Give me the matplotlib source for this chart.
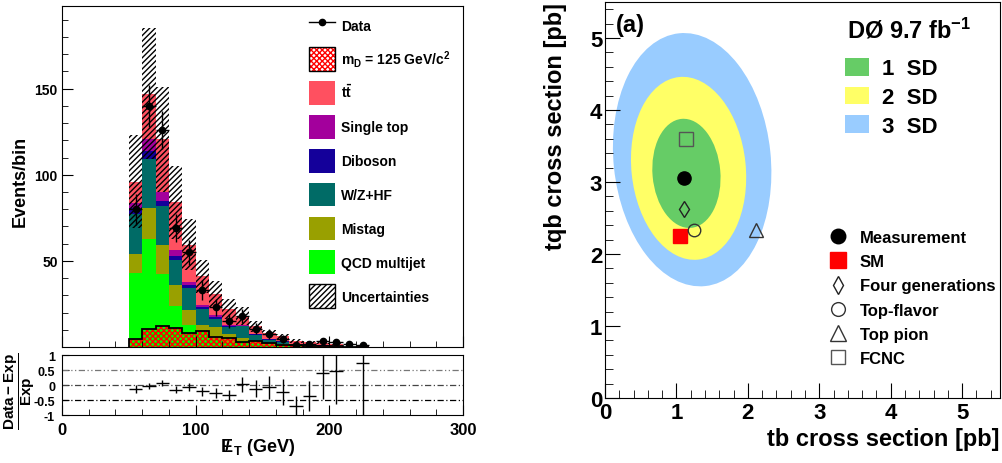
import numpy as np
import matplotlib
matplotlib.use('Agg')
from matplotlib import pyplot as plt
from matplotlib.patches import Ellipse, Patch
from matplotlib.lines import Line2D
from matplotlib.ticker import MultipleLocator

plt.rcParams['font.family'] = ['Liberation Sans', 'DejaVu Sans']
plt.rcParams['font.weight'] = 'bold'
plt.rcParams['mathtext.fontset'] = 'custom'
plt.rcParams['mathtext.rm'] = 'Liberation Sans:bold'
plt.rcParams['mathtext.it'] = 'Liberation Sans:bold'
plt.rcParams['mathtext.bf'] = 'Liberation Sans:bold'
plt.rcParams['hatch.linewidth'] = 1.0

#---------------- left panel: missing ET distribution ----------------
et_edges = [50, 60, 70, 80, 90, 100, 110, 120, 130, 140, 150,
            160, 170, 180, 190, 200, 210, 220, 230]
qcd    = [43, 63, 42.5, 24, 12.5, 8.5, 4, 2.5, 3.5, 1.5, 1, 0.5, 0.3, 0.2, 0.1, 0, 0, 0]
mistag = [11, 18, 17, 12, 9, 4, 7.5, 5, 2, 2, 1.5, 1, 0.7, 0.5, 0.3, 0.2, 0, 0.1]
wzhf   = [23.5, 28, 22.5, 14.5, 13, 9.5, 5, 4, 6.5, 3.5, 1.5, 1.5, 0.6, 0.5, 0.4, 0.3, 0, 0.1]
dibos  = [3, 5, 3, 2.5, 1.5, 1, 1, 0.5, 0.3, 0.3, 0.5, 0.2, 0.1, 0.1, 0.1, 0.05, 0, 0]
stop   = [3, 7, 5, 3.5, 1.5, 1.5, 1, 0.7, 0.4, 0.3, 0.3, 0.3, 0.1, 0.1, 0.1, 0.05, 0, 0]
ttbar  = [12.5, 26, 30.5, 27.5, 22, 16.5, 12.5, 9.3, 5.3, 4.4, 3.4, 2.7, 1.7, 1.5, 1.5, 1.3, 0, 0.4]
unc    = [27, 38, 30.5, 21, 15, 9.5, 7.5, 6, 5, 3, 1.5, 1.3, 1, 0.8, 0.6, 0.5, 0, 0.3]
signal = [4.8, 10.5, 12, 11, 8.2, 9.3, 5.8, 5.3, 2.9, 3.3, 2.6, 1.4, 1.0, 0.8, 0.5, 0.4, 0.2, 0.1]
data     = [80, 140, 126, 69, 55, 33, 23, 15, 18, 10.5, 7.5, 4.8, 1, 1.8, 3.5, 2.8, 2, 1]
data_err = [9, 12, 11, 8.3, 7.4, 5.7, 4.8, 3.9, 4.2, 3.2, 2.7, 2.2, 1, 1.3, 1.9, 1.7, 1.4, 1]
ratio     = [-0.14, -0.03, 0.07, -0.15, -0.07, -0.2, -0.26, -0.33, 0.02, -0.12,
             -0.07, -0.23, -0.7, -0.37, 0.4, 0.47, np.nan, 0.72]
ratio_err = [0.13, 0.09, 0.09, 0.12, 0.13, 0.15, 0.16, 0.18, 0.26, 0.29,
             0.38, 0.42, 0.33, 0.5, 0.88, 1.11, np.nan, 2.0]

stack_names = ['QCD multijet', 'Mistag', 'W/Z+HF', 'Diboson', 'Single top', r't$\bar{t}$']
stack_colors = ['#00ff00', '#99a000', '#006b66', '#14009a', '#a3009c', '#ff5060']

edges = np.array(et_edges, dtype=float)
centers = 0.5*(edges[:-1] + edges[1:])
comps = np.array([qcd, mistag, wzhf, dibos, stop, ttbar])
cum = np.cumsum(comps, axis=0)
expect = cum[-1]
unc = np.array(unc)

fig = plt.figure(figsize=(10.03, 4.64), dpi=100)

ax1 = fig.add_axes([0.0618, 0.25, 0.3998, 0.7349])
ax1.set_xlim(0, 300)
ax1.set_ylim(0, 198)
#stack drawn top-down so lower layers cover upper ones
for i in range(len(comps)-1, -1, -1):
    ax1.stairs(cum[i], edges, baseline=0, fill=True, color=stack_colors[i], lw=0)
ax1.stairs(expect + unc, edges, baseline=expect - unc, fill=True,
           facecolor='none', edgecolor='black', hatch='//////', lw=0)
ax1.stairs(signal, edges, baseline=0, fill=True, facecolor='none',
           edgecolor='red', hatch='xxxxxx', lw=0)
ax1.stairs(signal, edges, baseline=0, color='black', lw=1.3)
ax1.errorbar(centers, data, xerr=5, yerr=data_err, fmt='o', color='black',
             ms=4.5, elinewidth=1, capsize=0)

ax1.set_yticks([50, 100, 150])
ax1.yaxis.set_minor_locator(MultipleLocator(10))
ax1.xaxis.set_major_locator(MultipleLocator(100))
ax1.xaxis.set_minor_locator(MultipleLocator(20))
ax1.tick_params(which='both', direction='in', labelbottom=False, labelsize=10, pad=3)
ax1.tick_params(which='major', length=8)
ax1.tick_params(which='minor', length=4)

leg_handles = [Line2D([], [], color='black', marker='o', ms=4.5, lw=1),
               (Patch(facecolor='white', edgecolor='red', hatch='xxxxxx', lw=0),
                Patch(facecolor='none', edgecolor='black', lw=1))]
leg_labels = ['Data', r'm$_D$ = 125 GeV/c$^2$']
for i in range(len(comps)-1, -1, -1):
    leg_handles.append(Patch(facecolor=stack_colors[i], lw=0))
    leg_labels.append(stack_names[i])
leg_handles.append(Patch(facecolor='white', edgecolor='black', hatch='//////', lw=1))
leg_labels.append('Uncertainties')
ax1.legend(leg_handles, leg_labels, loc='upper left', bbox_to_anchor=(0.616, 0.978),
           frameon=False, fontsize=10, handlelength=1.87, handleheight=2.25,
           labelspacing=0.73, handletextpad=0.43, borderpad=0, borderaxespad=0)

fig.text(20/1003, 1-181/464, 'Events/bin', rotation=90, ha='center', va='center', fontsize=13)

#ratio panel
ax2 = fig.add_axes([0.0618, 0.1034, 0.3998, 0.1293])
ax2.set_xlim(0, 300)
ax2.set_ylim(-1, 1)
ax2.axhline(0.5, color='#777777', lw=0.9, ls=(0, (5, 2, 1, 2, 1, 2)))
ax2.axhline(0.0, color='#444444', lw=0.9, ls=(0, (5, 2, 1, 2)))
ax2.axhline(-0.5, color='black', lw=0.9, ls=(0, (5, 2, 1, 2)))
ax2.errorbar(centers, ratio, xerr=5, yerr=ratio_err, fmt='none', ecolor='black',
             elinewidth=1, capsize=0)
ax2.set_yticks([-1, -0.5, 0, 0.5, 1])
ax2.set_yticklabels(['-1', '-0.5', '0', '0.5', '1'])
ax2.xaxis.set_major_locator(MultipleLocator(100))
ax2.xaxis.set_minor_locator(MultipleLocator(20))
ax2.tick_params(which='both', direction='in')
ax2.tick_params(axis='y', labelsize=9, pad=5, length=5)
ax2.tick_params(axis='x', which='major', labelsize=12, pad=5, length=7)
ax2.tick_params(axis='x', which='minor', length=4)
fig.text(20/1003, 1-391/464, r'$\dfrac{Data - Exp}{Exp}$', rotation=90,
         ha='center', va='center', fontsize=11)
fig.text(258/1003, 1-448/464, r'$E\!\!\!/\;_T$ (GeV)', ha='center', va='center', fontsize=13)

#---------------- right panel: tb vs tqb cross sections ----------------
cl_labels = ['1  SD', '2  SD', '3  SD']
cl_cx = [1.14, 1.17, 1.22]
cl_cy = [3.12, 3.19, 3.31]
cl_w = [0.95, 1.60, 2.20]
cl_h = [1.52, 2.55, 3.53]
cl_angle = [5, 6, 6]
cl_colors = ['#66cc66', '#ffff66', '#99ccff']

model_names = ['Measurement', 'SM', 'Four generations', 'Top-flavor', 'Top pion', 'FCNC']
model_tb = [1.10, 1.05, 1.10, 1.25, 2.12, 1.13]
model_tqb = [3.05, 2.25, 2.63, 2.34, 2.33, 3.60]

ax3 = fig.add_axes([0.6032, 0.1401, 0.3938, 0.8534])
ax3.set_xlim(0, 5.53)
ax3.set_ylim(0, 5.5)
for i in range(len(cl_labels)-1, -1, -1):
    ax3.add_patch(Ellipse((cl_cx[i], cl_cy[i]), cl_w[i], cl_h[i], angle=cl_angle[i],
                          facecolor=cl_colors[i], edgecolor='none'))

styles = [dict(marker='o', ms=9.5, mfc='black', mec='black'),
          dict(marker='s', ms=10.5, mfc='red', mec='red'),
          dict(marker='d', ms=8, mfc='none', mec='#222222', mew=1),
          dict(marker='o', ms=9, mfc='none', mec='#333333', mew=1),
          dict(marker='^', ms=10, mfc='none', mec='#333333', mew=1),
          dict(marker='s', ms=9.5, mfc='none', mec='#555555', mew=1)]
mk_handles = []
for i in range(len(model_names)):
    h, = ax3.plot([model_tb[i]], [model_tqb[i]], ls='none', **styles[i])
    mk_handles.append(h)

ax3.xaxis.set_major_locator(MultipleLocator(1))
ax3.xaxis.set_minor_locator(MultipleLocator(0.2))
ax3.yaxis.set_major_locator(MultipleLocator(1))
ax3.yaxis.set_minor_locator(MultipleLocator(0.2))
ax3.tick_params(which='both', direction='in', labelsize=16)
ax3.tick_params(axis='x', pad=3)
ax3.tick_params(axis='y', pad=2)
ax3.tick_params(which='major', length=11)
ax3.tick_params(which='minor', length=6)

leg1 = ax3.legend([Patch(facecolor=c, lw=0) for c in cl_colors], cl_labels,
                  loc='upper left', bbox_to_anchor=(0.608, 0.859), frameon=False,
                  fontsize=16, handlelength=1.08, handleheight=0.86, labelspacing=0.32,
                  handletextpad=0.6, borderpad=0, borderaxespad=0)
ax3.add_artist(leg1)
ax3.legend(mk_handles, model_names, loc='upper left', bbox_to_anchor=(0.5646, 0.424),
           frameon=False, fontsize=12, handlelength=1.2, labelspacing=0.55,
           handletextpad=0.72, borderpad=0, borderaxespad=0, markerscale=1.1)

fig.text(847/1003, 1-38/464, r'DØ 9.7 fb$^{-1}$', fontsize=17, va='baseline', ha='left')
ax3.text(0.028, 0.944, '(a)', transform=ax3.transAxes, fontsize=17, va='center', ha='left')

fig.text(1000/1003, 1-440/464, 'tb cross section [pb]', ha='right', va='center', fontsize=17)
fig.text(556/1003, 1-3/464, 'tqb cross section [pb]', rotation=90, ha='center', va='top',
         fontsize=17)

fig.savefig('out.png', dpi=100)
